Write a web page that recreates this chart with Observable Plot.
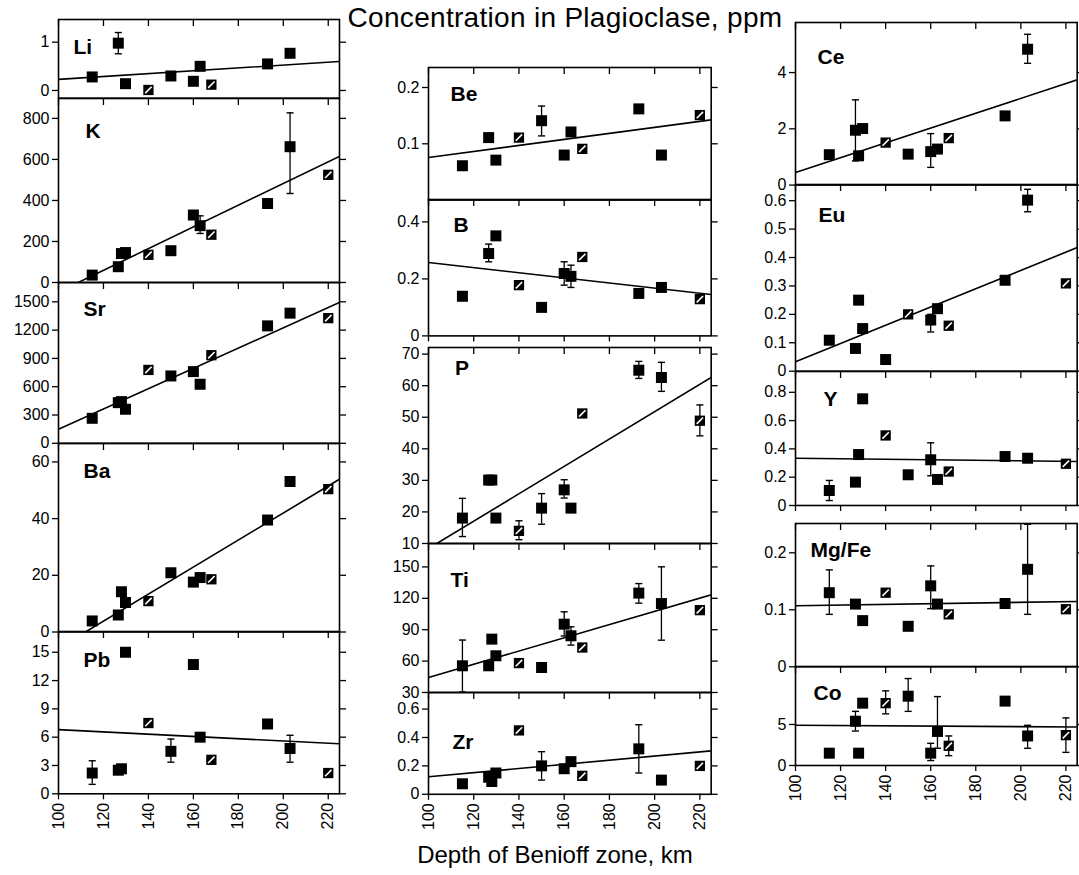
<!DOCTYPE html>
<html><head><meta charset="utf-8">
<script src="https://cdn.jsdelivr.net/npm/d3@7"></script>
<script src="https://cdn.jsdelivr.net/npm/@observablehq/plot@0.6"></script>
<style>
body{margin:0;background:#fff;}
#chart{position:relative;width:1079px;height:875px;overflow:hidden;font-family:'Liberation Sans',Arial,Helvetica,sans-serif;color:#000;}
#chart svg{position:absolute;}
.ttl{position:absolute;text-align:center;line-height:1;white-space:nowrap;}
</style></head><body><div id="chart"></div>
<script>
// ---------------- DATA ----------------
const depth = [115, 126.6, 128, 129.8, 140, 150, 160, 163, 168, 193, 203, 220];
const xTicks = [100, 120, 140, 160, 180, 200, 220];
const hatchedStd = [4, 8, 11];
const hatchedEu = [5, 8, 11];

const Li = [0.28, 0.98, null, 0.14, 0.01, 0.30, 0.19, 0.50, 0.12, 0.55, 0.77, null];
const LiErr = [[1, 0.76, 1.2]];
const LiLine = [[100, 0.23], [225, 0.6]];
const LiTicks = [0, 1];
const LiDomain = [-0.16, 1.47];

const K = [36, 77, 141, 146, 135, 155, 329, 277, 233, 385, 662, 525];
const KErr = [[7, 239, 325], [10, 434, 827]];
const KLine = [[108.8, 0], [225, 615]];
const KTicks = [0, 200, 400, 600, 800];
const KDomain = [0, 897];

const Sr = [265, 431, 442, 361, 778, 714, 760, 626, 934, 1245, 1380, 1327];
const SrErr = [];
const SrLine = [[100, 149], [225, 1493]];
const SrTicks = [0, 300, 600, 900, 1200, 1500];
const SrDomain = [0, 1705];

const Ba = [3.9, 6.0, 14.2, 10.4, 10.9, 20.9, 17.6, 19.2, 18.6, 39.5, 53.1, 50.4];
const BaErr = [];
const BaLine = [[112, 0], [225, 53.9]];
const BaTicks = [0, 20, 40, 60];
const BaDomain = [0, 66.5];

const Pb = [2.2, 2.5, 2.65, 15.0, 7.5, 4.5, 13.7, 6.0, 3.6, 7.4, 4.8, 2.2];
const PbErr = [[0, 1.0, 3.5], [5, 3.35, 5.8], [10, 3.35, 6.2]];
const PbLine = [[100, 6.8], [225, 5.3]];
const PbTicks = [0, 3, 6, 9, 12, 15];
const PbDomain = [0, 17.2];

const Be = [0.061, 0.111, null, 0.071, 0.111, 0.141, 0.080, 0.121, 0.091, 0.162, 0.080, 0.151];
const BeErr = [[5, 0.114, 0.167]];
const BeLine = [[100, 0.0757], [225, 0.1426]];
const BeTicks = [0.1, 0.2];
const BeDomain = [0, 0.2355];

const B = [0.139, 0.289, null, 0.351, 0.178, 0.10, 0.219, 0.209, 0.277, 0.149, 0.17, 0.129];
const BErr = [[1, 0.26, 0.322], [6, 0.178, 0.26], [7, 0.17, 0.248]];
const BLine = [[100, 0.2575], [225, 0.145]];
const BTicks = [0, 0.2, 0.4];
const BDomain = [0, 0.4786];

const P = [18.05, 30.1, 30.1, 18.05, 14.0, 21.2, 27.0, 21.2, 51.2, 64.9, 62.6, 48.9];
const PErr = [[0, 12.2, 24.3], [4, 11.2, 17.2], [5, 16.1, 25.8], [6, 24.4, 30.2], [9, 62.3, 67.7], [10, 58.2, 67.4], [11, 44.1, 53.9]];
const PLine = [[103.7, 10], [225, 62.6]];
const PTicks = [10, 20, 30, 40, 50, 60, 70];
const PDomain = [10, 72.1];

const Ti = [55.5, 55.5, 81.0, 65.1, 58.1, 53.9, 95.3, 84.2, 73.0, 125, 115, 108.7];
const TiErr = [[0, 30.5, 80.1], [6, 84, 107.1], [7, 75.3, 92.8], [9, 115.4, 134.1], [10, 80, 150.1]];
const TiLine = [[100, 44.3], [225, 123.3]];
const TiTicks = [30, 60, 90, 120, 150];
const TiDomain = [30, 172.4];

const Zr = [0.074, 0.12, 0.09, 0.15, 0.45, 0.2, 0.18, 0.23, 0.13, 0.32, 0.1, 0.2];
const ZrErr = [[5, 0.1, 0.3], [9, 0.15, 0.49]];
const ZrLine = [[100, 0.123], [225, 0.306]];
const ZrTicks = [0, 0.2, 0.4, 0.6];
const ZrDomain = [0, 0.717];

const Ce = [1.08, 1.95, 1.04, 2.01, 1.51, 1.1, 1.19, 1.28, 1.67, 2.46, 4.83, null];
const CeErr = [[1, 0.86, 3.03], [6, 0.63, 1.83], [10, 4.33, 5.36]];
const CeLine = [[100, 0.45], [225, 3.74]];
const CeTicks = [0, 2, 4];
const CeDomain = [0, 5.78];

const Eu = [0.109, 0.08, 0.25, 0.15, 0.041, 0.2, 0.18, 0.22, 0.16, 0.32, 0.602, 0.309];
const EuErr = [[6, 0.138, 0.2], [10, 0.561, 0.64]];
const EuLine = [[100, 0.033], [225, 0.435]];
const EuTicks = [0, 0.1, 0.2, 0.3, 0.4, 0.5, 0.6];
const EuDomain = [0, 0.657];

const Y = [0.106, 0.165, 0.36, 0.754, 0.495, 0.217, 0.323, 0.184, 0.24, 0.346, 0.334, 0.295];
const YErr = [[0, 0.035, 0.177], [6, 0.21, 0.443]];
const YLine = [[100, 0.334], [225, 0.311]];
const YTicks = [0, 0.2, 0.4, 0.6, 0.8];
const YDomain = [0, 0.947];

const MgFe = [0.130, 0.11, null, 0.081, 0.13, 0.071, 0.142, 0.11, 0.092, 0.111, 0.171, 0.101];
const MgFeErr = [[0, 0.092, 0.17], [6, 0.102, 0.177], [10, 0.092, 0.25]];
const MgFeLine = [[100, 0.107], [225, 0.1146]];
const MgFeTicks = [0, 0.1, 0.2];
const MgFeDomain = [0, 0.2514];

const Co = [1.5, 5.4, 1.5, 7.6, 7.6, 8.45, 1.5, 4.15, 2.4, 7.85, 3.6, 3.7];
const CoErr = [[1, 4.2, 6.6], [4, 6.3, 9.1], [5, 6.6, 10.6], [6, 0.6, 2.7], [7, 2.1, 8.4], [8, 1.2, 3.6], [10, 2.1, 4.9], [11, 1.6, 5.8]];
const CoLine = [[100, 4.9], [225, 4.7]];
const CoTicks = [0, 5];
const CoDomain = [0, 12.07];

const titleText = "Concentration in Plagioclase, ppm";
const xLabelText = "Depth of Benioff zone, km";

// ---------------- PANELS ----------------
const panels = [
  {name: "Li", v: Li, err: LiErr, h: hatchedStd, line: LiLine, ticks: LiTicks, domain: LiDomain},
  {name: "K", v: K, err: KErr, h: hatchedStd, line: KLine, ticks: KTicks, domain: KDomain},
  {name: "Sr", v: Sr, err: SrErr, h: hatchedStd, line: SrLine, ticks: SrTicks, domain: SrDomain},
  {name: "Ba", v: Ba, err: BaErr, h: hatchedStd, line: BaLine, ticks: BaTicks, domain: BaDomain},
  {name: "Pb", v: Pb, err: PbErr, h: hatchedStd, line: PbLine, ticks: PbTicks, domain: PbDomain},
  {name: "Be", v: Be, err: BeErr, h: hatchedStd, line: BeLine, ticks: BeTicks, domain: BeDomain},
  {name: "B", v: B, err: BErr, h: hatchedStd, line: BLine, ticks: BTicks, domain: BDomain},
  {name: "P", v: P, err: PErr, h: hatchedStd, line: PLine, ticks: PTicks, domain: PDomain},
  {name: "Ti", v: Ti, err: TiErr, h: hatchedStd, line: TiLine, ticks: TiTicks, domain: TiDomain},
  {name: "Zr", v: Zr, err: ZrErr, h: hatchedStd, line: ZrLine, ticks: ZrTicks, domain: ZrDomain},
  {name: "Ce", v: Ce, err: CeErr, h: hatchedStd, line: CeLine, ticks: CeTicks, domain: CeDomain},
  {name: "Eu", v: Eu, err: EuErr, h: hatchedEu, line: EuLine, ticks: EuTicks, domain: EuDomain},
  {name: "Y", v: Y, err: YErr, h: hatchedStd, line: YLine, ticks: YTicks, domain: YDomain},
  {name: "Mg/Fe", v: MgFe, err: MgFeErr, h: hatchedStd, line: MgFeLine, ticks: MgFeTicks, domain: MgFeDomain},
  {name: "Co", v: Co, err: CoErr, h: hatchedStd, line: CoLine, ticks: CoTicks, domain: CoDomain}
];

// layout (pixel placement only)
const cols = [{left: 58, right: 339}, {left: 428.3, right: 711}, {left: 795, right: 1076.7}];
const layout = {
  "Li":    {col: 0, top: 19,    bottom: 97.7,  lx: 15, ly: 34.5, axis: null},
  "K":     {col: 0, top: 97.7,  bottom: 281.7, lx: 27, ly: 39.5, axis: null},
  "Sr":    {col: 0, top: 281.7, bottom: 442.5, lx: 25, ly: 34, axis: null},
  "Ba":    {col: 0, top: 442.5, bottom: 631,   lx: 25, ly: 34, axis: null},
  "Pb":    {col: 0, top: 631,   bottom: 793.3, lx: 25, ly: 36, axis: "labels"},
  "Be":    {col: 1, top: 66.7,  bottom: 199.3, lx: 22, ly: 33.5, axis: null},
  "B":     {col: 1, top: 199.3, bottom: 335.7, lx: 25, ly: 33, axis: "ticks"},
  "P":     {col: 1, top: 346.7, bottom: 542.7, lx: 26.5, ly: 28, axis: null},
  "Ti":    {col: 1, top: 542.7, bottom: 691.7, lx: 22, ly: 43.5, axis: null},
  "Zr":    {col: 1, top: 691.7, bottom: 793.5, lx: 24, ly: 57, axis: "labels"},
  "Ce":    {col: 2, top: 21.7,  bottom: 184.3, lx: 22, ly: 42, axis: null},
  "Eu":    {col: 2, top: 184.3, bottom: 371,   lx: 23, ly: 37.5, axis: null},
  "Y":     {col: 2, top: 371,   bottom: 505,   lx: 28, ly: 35, axis: "ticks"},
  "Mg/Fe": {col: 2, top: 522.7, bottom: 666,   lx: 15, ly: 34, axis: null},
  "Co":    {col: 2, top: 666,   bottom: 765,   lx: 18, ly: 33.5, axis: "labels"}
};

const chart = document.getElementById("chart");
const slash = {draw(ctx, size) { const s = Math.sqrt(size) / 2 * 0.62; ctx.moveTo(-s, s); ctx.lineTo(s, -s); }};
const cap = {draw(ctx, size) { const w = Math.sqrt(size) / 2; ctx.moveTo(-w, 0); ctx.lineTo(w, 0); }};
const fmt = d => String(d);

for (const p of panels) {
  const L = layout[p.name];
  const c = cols[L.col];
  const ml = 60, mr = 14, mt = 10, mb = L.axis === "labels" ? 50 : 14;
  const W = ml + (c.right - c.left) + mr;
  const H = mt + (L.bottom - L.top) + mb;
  const pts = depth.map((d, i) => ({x: d, y: p.v[i], hatched: p.h.includes(i)})).filter(d => d.y != null);
  const filled = pts.filter(d => !d.hatched);
  const hatch = pts.filter(d => d.hatched);
  const errs = p.err.map(([i, lo, hi]) => ({x: depth[i], lo, hi}));
  const caps = errs.flatMap(e => [{x: e.x, y: e.lo}, {x: e.x, y: e.hi}]);
  const lineData = p.line.map(([x, y]) => ({x, y}));
  const marks = [
    Plot.line(lineData, {x: "x", y: "y", stroke: "black", strokeWidth: 1.6, clip: true}),
    Plot.ruleX(errs, {x: "x", y1: "lo", y2: "hi", stroke: "black", strokeWidth: 1.3}),
    Plot.dot(caps, {x: "x", y: "y", symbol: cap, r: 4, stroke: "black", strokeWidth: 1.4, fill: "none"}),
    Plot.dot(filled, {x: "x", y: "y", symbol: "square", r: 6.2, fill: "black", stroke: "none"}),
    Plot.dot(hatch, {x: "x", y: "y", symbol: "square", r: 5.8, fill: "black", stroke: "none"}),
    Plot.dot(hatch, {x: "x", y: "y", symbol: slash, r: 5.8, stroke: "white", strokeWidth: 1.6, fill: "none"}),
    Plot.frame({stroke: "black", strokeWidth: 1.6}),
    Plot.axisY(p.ticks, {anchor: "left", tickSize: 6, tickPadding: 3, tickFormat: fmt, label: null, strokeWidth: 1.3, fontSize: 16}),
    Plot.axisY(p.ticks, {anchor: "right", tickSize: 6, fill: "none", label: null, strokeWidth: 1.3}),
    Plot.axisX(xTicks, {anchor: "top", tickSize: 6, insetTop: 6, fill: "none", label: null, strokeWidth: 1.3}),
    Plot.text([p.name], {frameAnchor: "top-left", dx: L.lx, dy: L.ly, lineAnchor: "bottom", textAnchor: "start", fontWeight: "bold", fontSize: 21, fill: "black"})
  ];
  if (L.axis === "labels") {
    marks.push(Plot.axisX(xTicks, {anchor: "bottom", tickSize: 6, tickPadding: 3, tickRotate: -90, tickFormat: fmt, label: null, strokeWidth: 1.3, fontSize: 16}));
  } else if (L.axis === "ticks") {
    marks.push(Plot.axisX(xTicks, {anchor: "bottom", tickSize: 6, fill: "none", label: null, strokeWidth: 1.3}));
  }
  const svg = Plot.plot({
    width: W, height: H,
    marginLeft: ml, marginRight: mr, marginTop: mt, marginBottom: mb,
    x: {domain: [100, 225]},
    y: {domain: p.domain},
    style: {background: "none", overflow: "visible", fontFamily: "'Liberation Sans', Arial, Helvetica, sans-serif", fontSize: "16px", color: "black"},
    marks
  });
  svg.style.left = (c.left - ml) + "px";
  svg.style.top = (L.top - mt) + "px";
  svg.style.maxWidth = "none";
  chart.appendChild(svg);
}

const t = document.createElement("div");
t.className = "ttl";
t.textContent = titleText;
Object.assign(t.style, {left: "265px", width: "600px", top: "3.5px", fontSize: "28px", letterSpacing: "0.3px"});
chart.appendChild(t);

const xl = document.createElement("div");
xl.className = "ttl";
xl.textContent = xLabelText;
Object.assign(xl.style, {left: "255px", width: "600px", top: "842.5px", fontSize: "24px"});
chart.appendChild(xl);
</script>
</body></html>
